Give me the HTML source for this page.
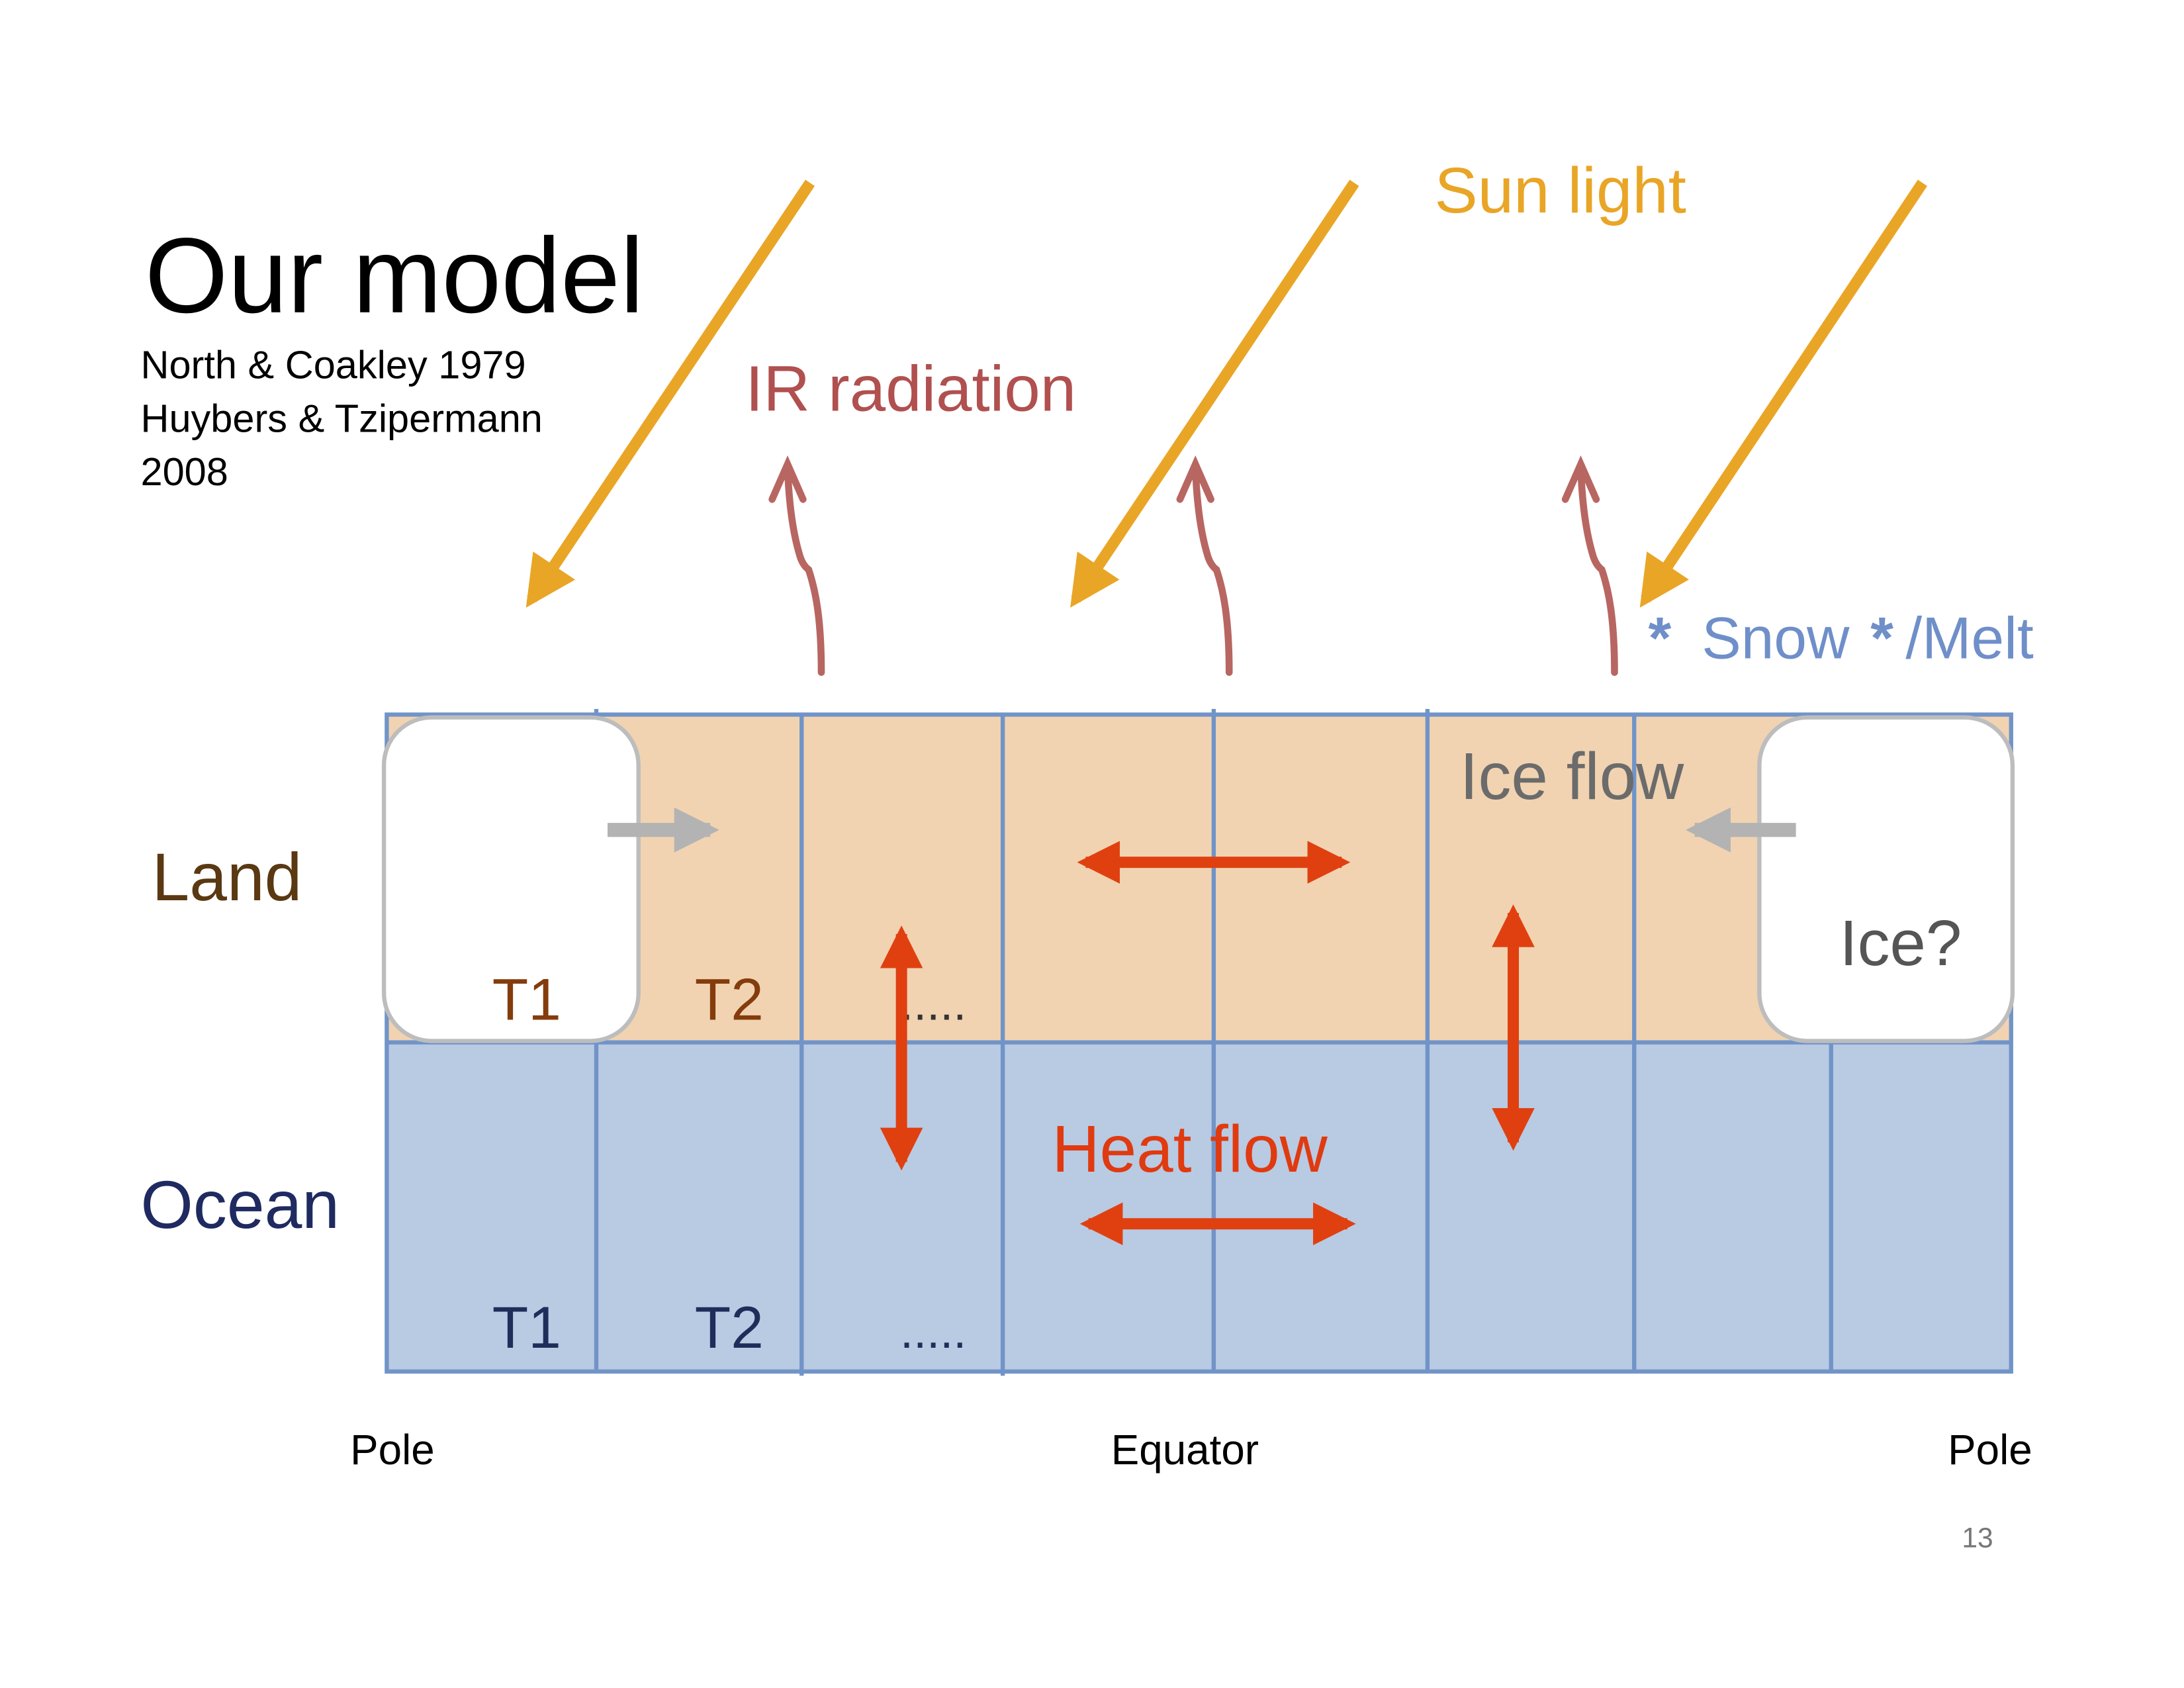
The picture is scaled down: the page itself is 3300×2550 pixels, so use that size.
<!DOCTYPE html>
<html><head><meta charset="utf-8"><style>
html,body{margin:0;padding:0;background:#fff}
svg{display:block}
text{font-family:"Liberation Sans",sans-serif}
</style></head><body>
<svg width="3300" height="2550" viewBox="0 0 1552.94 1200" xmlns="http://www.w3.org/2000/svg">
<defs>
<marker id="sun" viewBox="0 0 10 10" refX="8" refY="5" markerWidth="4.5" markerHeight="4.5" orient="auto" markerUnits="strokeWidth"><path d="M0,0 L10,5 L0,10 z" fill="#E9A526"/></marker>
<marker id="red" viewBox="0 0 10 10" refX="8" refY="5" markerWidth="3.8" markerHeight="3.8" orient="auto-start-reverse" markerUnits="strokeWidth"><path d="M0,0 L10,5 L0,10 z" fill="#E04010"/></marker>
<marker id="gray" viewBox="0 0 10 10" refX="8" refY="5" markerWidth="3.2" markerHeight="3.2" orient="auto" markerUnits="strokeWidth"><path d="M0,0 L10,5 L0,10 z" fill="#B3B3B3"/></marker>
</defs>

<text x="103" y="222" font-size="76" fill="#000">Our model</text>
<g font-size="28" fill="#000">
<text x="100" y="269">North &amp; Coakley 1979</text>
<text x="100" y="307">Huybers &amp; Tzipermann</text>
<text x="100" y="345">2008</text>
</g>

<g>
<rect x="275" y="508" width="1155" height="233" fill="#F1D3B1"/>
</g>
<g>
<rect x="275" y="741" width="1155" height="234" fill="#B9CAE3"/>
</g>
<g stroke="#7194C8" stroke-width="3" fill="none">
<rect x="275" y="508" width="1155" height="467"/>
<line x1="275" y1="741" x2="1430" y2="741"/>
<line x1="424" y1="504" x2="424" y2="975"/>
<line x1="570" y1="508" x2="570" y2="978"/>
<line x1="713" y1="508" x2="713" y2="978"/>
<line x1="863" y1="504" x2="863" y2="975"/>
<line x1="1015" y1="504" x2="1015" y2="975"/>
<line x1="1162" y1="508" x2="1162" y2="975"/>
<line x1="1302" y1="741" x2="1302" y2="975"/>
</g>

<rect x="273" y="510" width="181" height="230" rx="34" fill="#fff" stroke="#BDBDBD" stroke-width="3"/>
<rect x="1251" y="510" width="180" height="230" rx="34" fill="#fff" stroke="#BDBDBD" stroke-width="3"/>

<g font-size="42">
<text x="350" y="725" fill="#843C0C">T1</text>
<text x="494" y="725" fill="#843C0C">T2</text>
<text x="640" y="725" fill="#333" font-size="34">.....</text>
<text x="350" y="958" fill="#1F2D5A">T1</text>
<text x="494" y="958" fill="#1F2D5A">T2</text>
<text x="640" y="958" fill="#1F2D5A" font-size="34">.....</text>
</g>

<text x="108" y="640" font-size="48" fill="#5A3812">Land</text>
<text x="100" y="873" font-size="48" fill="#1F2A60">Ocean</text>
<text x="1038" y="568" font-size="47" fill="#6B6B6B">Ice flow</text>
<text x="1308" y="686" font-size="46" fill="#555">Ice?</text>
<text x="748" y="833" font-size="47" fill="#E03A10">Heat flow</text>

<g font-size="30" fill="#000">
<text x="249" y="1041">Pole</text>
<text x="790" y="1041">Equator</text>
<text x="1385" y="1041">Pole</text>
</g>
<text x="1395" y="1100" font-size="20" fill="#777">13</text>

<g stroke="#E9A526" stroke-width="8">
<line x1="576" y1="130" x2="378" y2="426" marker-end="url(#sun)"/>
<line x1="963" y1="130" x2="765" y2="426" marker-end="url(#sun)"/>
<line x1="1367" y1="130" x2="1170" y2="426" marker-end="url(#sun)"/>
</g>
<text x="1020" y="151" font-size="46" fill="#E9A526">Sun light</text>

<g stroke="#B86662" stroke-width="5" fill="none" stroke-linecap="round">
<g>
<path d="M584,478 C584,440 580,420 575,405 Q571,402 569,396 C564,380 561,360 560,332"/>
<path d="M549,355 L560,330 L571,355"/>
</g>
<g transform="translate(290,0)">
<path d="M584,478 C584,440 580,420 575,405 Q571,402 569,396 C564,380 561,360 560,332"/>
<path d="M549,355 L560,330 L571,355"/>
</g>
<g transform="translate(564,0)">
<path d="M584,478 C584,440 580,420 575,405 Q571,402 569,396 C564,380 561,360 560,332"/>
<path d="M549,355 L560,330 L571,355"/>
</g>
</g>
<text x="530" y="292" font-size="46" fill="#B0504F">IR radiation</text>

<g fill="#6F8FC9">
<text x="1172" y="468" font-size="42" font-weight="bold">*</text>
<text x="1210" y="468" font-size="42">Snow</text>
<text x="1330" y="468" font-size="42" font-weight="bold">*</text>
<text x="1355" y="468" font-size="42">/Melt</text>
</g>

<g stroke="#B3B3B3" stroke-width="10">
<line x1="432" y1="590" x2="505" y2="590" marker-end="url(#gray)"/>
<line x1="1277" y1="590" x2="1205" y2="590" marker-end="url(#gray)"/>
</g>

<g stroke="#E04010" stroke-width="8">
<line x1="772" y1="613" x2="954" y2="613" marker-start="url(#red)" marker-end="url(#red)"/>
<line x1="641" y1="664" x2="641" y2="826" marker-start="url(#red)" marker-end="url(#red)"/>
<line x1="1076" y1="649" x2="1076" y2="812" marker-start="url(#red)" marker-end="url(#red)"/>
<line x1="774" y1="870" x2="958" y2="870" marker-start="url(#red)" marker-end="url(#red)"/>
</g>
</svg>
</body></html>
